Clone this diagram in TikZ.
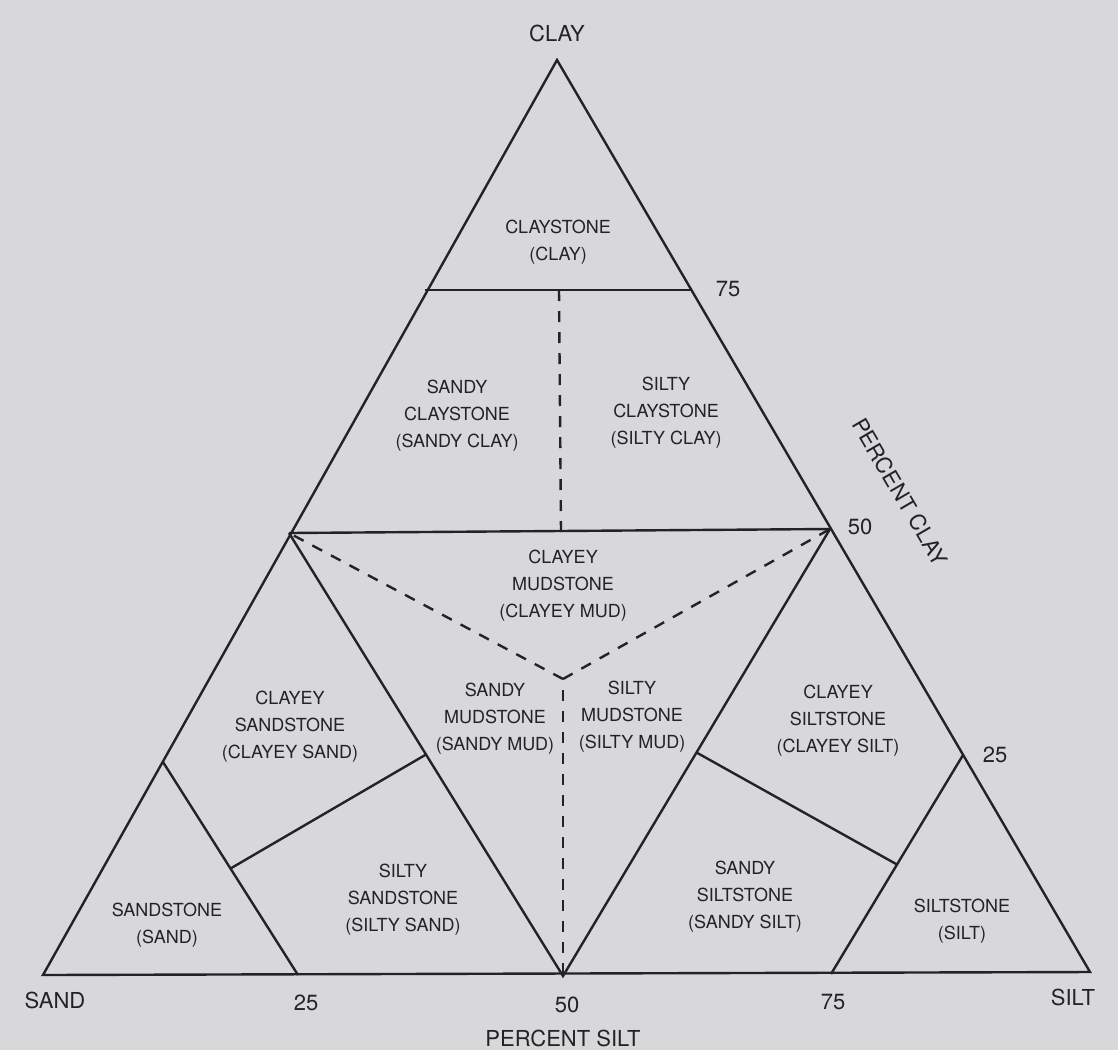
\documentclass[tikz,border=0pt]{standalone}
\usepackage{fontspec}
\setmainfont{TeX Gyre Heros}
\usetikzlibrary{calc}
\definecolor{paper}{RGB}{216,216,218}
\definecolor{ink}{RGB}{35,35,38}

\begin{document}
\begin{tikzpicture}[
  x=1pt, y=-1pt,
  region/.style={align=center, text=ink, font={\fontsize{18pt}{27pt}\selectfont}},
  axis/.style={text=ink, font={\fontsize{22pt}{26pt}\selectfont}},
  bound/.style={draw=ink, line width=2.4pt, line join=miter},
  guide/.style={draw=ink, line width=2.4pt, dash pattern=on 11pt off 10pt}
]
\fill[paper] (0,0) rectangle (1118,1050);
\useasboundingbox (0,0) rectangle (1118,1050);

% corners and class limits
\coordinate (sand) at (43,975);
\coordinate (silt) at (1090,972);
\coordinate (clay) at (557,60);
\coordinate (c75L) at (425,290);
\coordinate (c75R) at (692,290);
\coordinate (c50L) at (289,533);
\coordinate (c50R) at (830,529);
\coordinate (s25) at (298,975);
\coordinate (s50) at (563,976);
\coordinate (s75) at (831,974);
\coordinate (l25) at (163,762);
\coordinate (r25) at (963,755);
\coordinate (ctr) at (563,679);
\coordinate (ctrlow) at (563,690);
\coordinate (c75m) at (559,290);
\coordinate (c50m) at (561,532);

% outline and solid limits
\draw[bound] (sand) -- (silt) -- (clay) -- cycle;
\draw[bound] (c75L) -- (c75R);
\draw[bound] (c50L) -- (c50R);
\draw[bound] (c50L) -- (s50) -- (c50R);
\draw[bound] (l25) -- (s25);
\draw[bound] (r25) -- (s75);
\draw[bound] ($(l25)!0.5!(s25)$) -- ($(c50L)!0.5!(s50)$);
\draw[bound] ($(r25)!0.5!(s75)$) -- ($(c50R)!0.5!(s50)$);

% dashed limits
\draw[guide] (c75m) -- (c50m);
\draw[guide] (ctr) -- (c50L);
\draw[guide] (ctr) -- (c50R);
\draw[guide] (ctrlow) -- (s50);

% class names
\node[region] (claystone) at (558,242) {CLAYSTONE\\(CLAY)};
\node[region] (sandyclaystone) at (457,416) {SANDY\\CLAYSTONE\\(SANDY CLAY)};
\node[region] (siltyclaystone) at (666,413) {SILTY\\CLAYSTONE\\(SILTY CLAY)};
\node[region] (clayeymudstone) at (563,586) {CLAYEY\\MUDSTONE\\(CLAYEY MUD)};
\node[region] (sandymudstone) at (495,719) {SANDY\\MUDSTONE\\(SANDY MUD)};
\node[region] (siltymudstone) at (632,717) {SILTY\\MUDSTONE\\(SILTY MUD)};
\node[region] (clayeysandstone) at (290,727) {CLAYEY\\SANDSTONE\\(CLAYEY SAND)};
\node[region] (sandstone) at (167,925) {SANDSTONE\\(SAND)};
\node[region] (siltysandstone) at (403,900) {SILTY\\SANDSTONE\\(SILTY SAND)};
\node[region] (clayeysiltstone) at (838,721) {CLAYEY\\SILTSTONE\\(CLAYEY SILT)};
\node[region] (sandysiltstone) at (745,897) {SANDY\\SILTSTONE\\(SANDY SILT)};
\node[region] (siltstone) at (962,921) {SILTSTONE\\(SILT)};

% axis labels
\node[axis] (claylbl) at (557,33) {CLAY};
\node[axis] (sandlbl) at (55,1000) {SAND};
\node[axis] (siltlbl) at (1073,997) {SILT};
\node[axis] (b25) at (306,1003) {25};
\node[axis] (b50) at (567,1005) {50};
\node[axis] (b75) at (833,1002) {75};
\node[axis] (siltaxis) at (563,1038) {PERCENT SILT};
\node[axis] (r75) at (728,289) {75};
\node[axis] (r50) at (860,527) {50};
\node[axis] (r25lbl) at (995,755) {25};
\node[axis, rotate=-59.7] (clayaxis) at (900,492) {PERCENT CLAY};
\end{tikzpicture}
\end{document}
